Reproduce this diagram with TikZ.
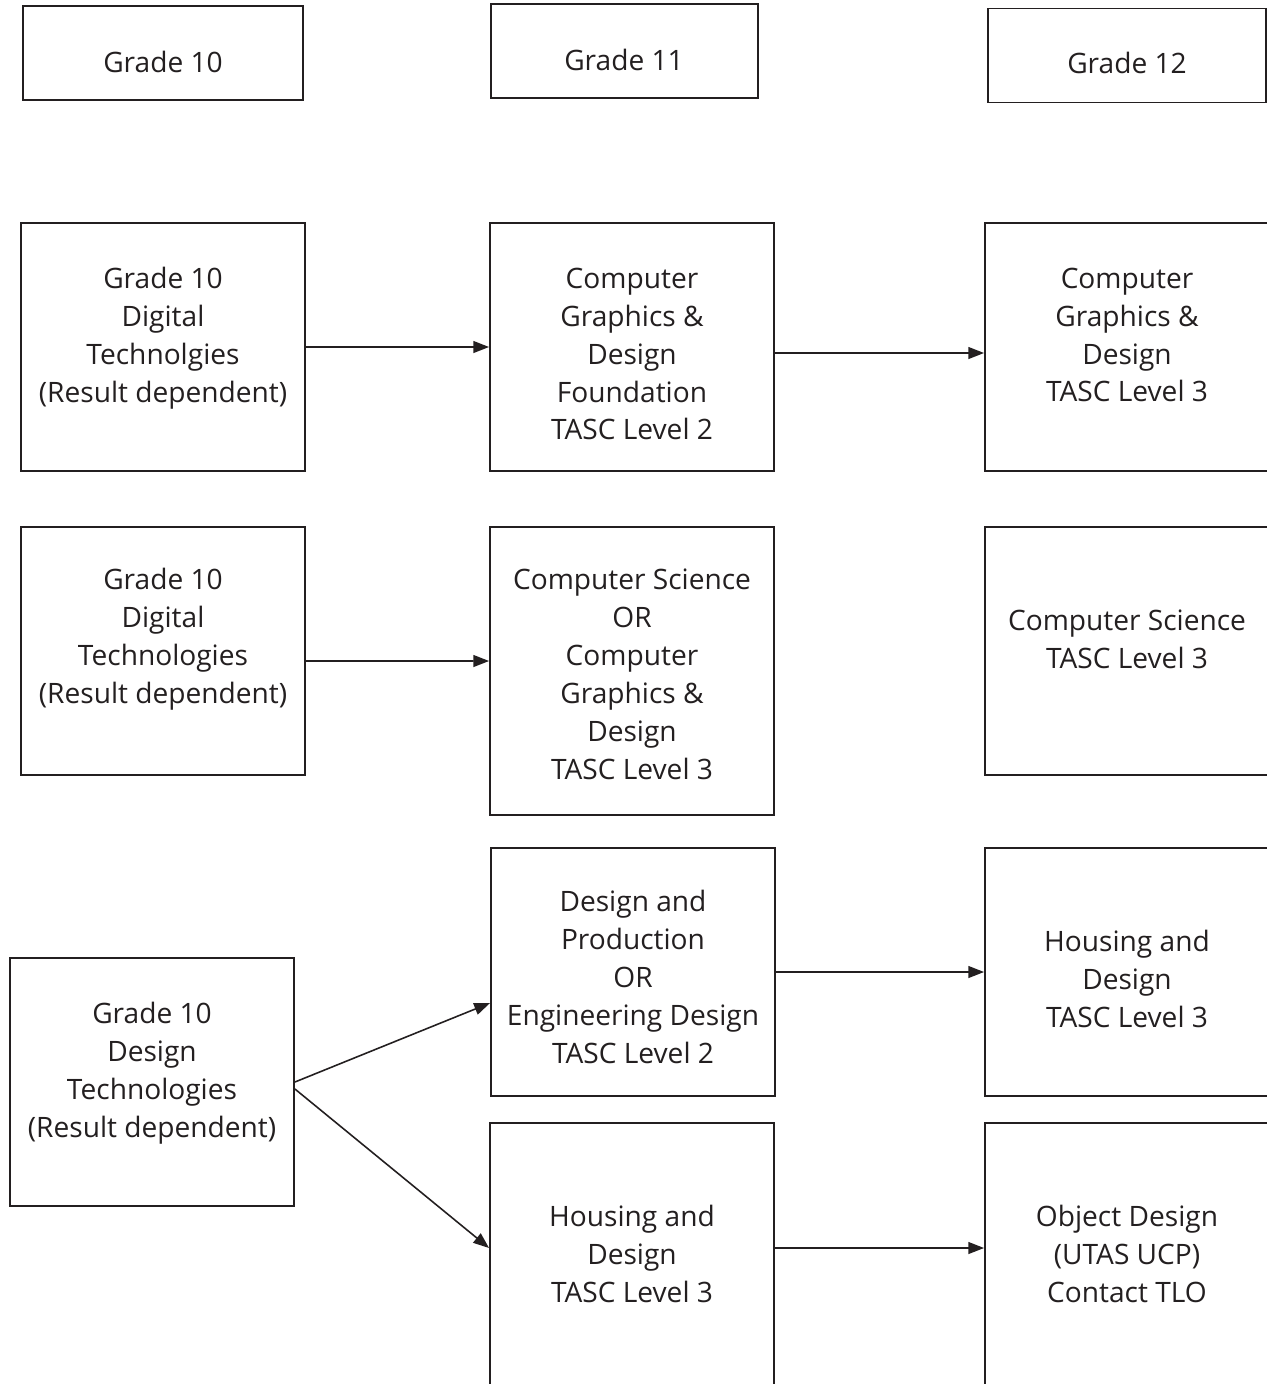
\documentclass[tikz,border=0pt]{standalone}
\usepackage{fontspec}
\setmainfont{Open Sans}
\usepackage{tikz}
\usetikzlibrary{arrows.meta,positioning}
\definecolor{inkblack}{RGB}{35, 31, 32}

\tikzset{
    box/.style={draw=inkblack, line width=1.1pt, inner sep=0pt,
        minimum width=5.68cm, minimum height=4.96cm},
    gradebox/.style={box, minimum height=1.88cm},
    txt/.style={text=inkblack, align=center, inner sep=0pt,
        font=\fontsize{16}{21.6}\selectfont},
    flow/.style={draw=inkblack, line width=0.9pt, -{Triangle[length=9pt, width=6.8pt]}}
}

\begin{document}
\begin{tikzpicture}[x=0.02cm, y=-0.02cm]
            \useasboundingbox (0,0) rectangle (1267,1384);

            % Grade headings
            \node[gradebox, minimum width=5.6cm] (g10) at (163,53) {};
            \node[gradebox, minimum width=5.34cm] (g11) at (624.5,51) {};
            \node[gradebox, minimum width=5.56cm] (g12) at (1127,55.5) {};
            \node[txt] (g10txt) at (163,62) {Grade 10};
            \node[txt] (g11txt) at (624,60) {Grade 11};
            \node[txt] (g12txt) at (1127,62.5) {Grade 12};

            % Digital Technologies pathway
            \node[box] (dt1) at (163,347) {};
            \node[box] (cgdf) at (632,347) {};
            \node[box] (cgd3) at (1127,347) {};
            \node[txt] (dt1txt) at (163,338) {Grade 10\\Digital\\Technolgies\\(Result dependent)};
            \node[txt] (cgdftxt) at (632,354) {Computer\\Graphics \&\\Design\\Foundation\\TASC Level 2};
            \node[txt] (cgd3txt) at (1127,335) {Computer\\Graphics \&\\Design\\TASC Level 3};

            \node[box] (dt2) at (163,651) {};
            \node[box, minimum height=5.76cm] (csor) at (632,671) {};
            \node[box] (cs3) at (1127,651) {};
            \node[txt] (dt2txt) at (163,639) {Grade 10\\Digital\\Technologies\\(Result dependent)};
            \node[txt] (csortxt) at (632,674) {Computer Science\\OR\\Computer\\Graphics \&\\Design\\TASC Level 3};
            \node[txt] (cs3txt) at (1127,639) {Computer Science\\TASC Level 3};

            % Design Technologies pathway
            \node[box] (desgn) at (152,1082) {};
            \node[box] (dpor) at (633,972) {};
            \node[box] (hd3) at (1127,972) {};
            \node[box, minimum height=5.28cm] (hd11) at (632,1255) {};
            \node[box, minimum height=5.28cm] (objd) at (1127,1255) {};
            \node[txt] (desgntxt) at (152,1073) {Grade 10\\Design\\Technologies\\(Result dependent)};
            \node[txt] (dportxt) at (633,977) {Design and\\Production\\OR\\Engineering Design\\TASC Level 2};
            \node[txt] (hd3txt) at (1127,979) {Housing and\\Design\\TASC Level 3};
            \node[txt] (hd11txt) at (632,1254) {Housing and\\Design\\TASC Level 3};
            \node[txt] (objdtxt) at (1127,1254) {Object Design\\(UTAS UCP)\\Contact TLO};

            % Arrows
            \draw[flow] (dt1.east) -- (cgdf.west);
            \draw[flow] ([yshift=-0.12cm]cgdf.east) -- ([yshift=-0.12cm]cgd3.west);
            \draw[flow] ([yshift=-0.2cm]dt2.east) -- ([yshift=0.2cm]csor.west);
            \draw[flow] (desgn.east) -- ([yshift=-0.62cm]dpor.west);
            \draw[flow] ([yshift=-0.14cm]desgn.east) -- ([yshift=0.14cm]hd11.west);
            \draw[flow] (dpor.east) -- (hd3.west);
            \draw[flow] ([yshift=0.14cm]hd11.east) -- ([yshift=0.14cm]objd.west);
        \end{tikzpicture}
\end{document}
